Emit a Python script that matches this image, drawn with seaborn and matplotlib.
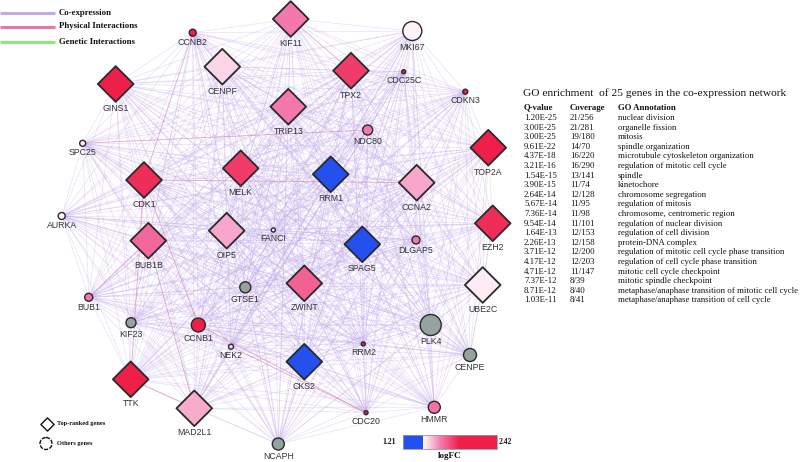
import numpy as np
import pandas as pd
import matplotlib
matplotlib.use("Agg")
import matplotlib.pyplot as plt
import seaborn as sns
from itertools import combinations
from matplotlib.collections import LineCollection
from matplotlib.colors import LinearSegmentedColormap, Normalize
from matplotlib.cm import ScalarMappable
from matplotlib.patches import Circle

# ---------------- data ----------------
# top-ranked genes (diamonds): layout position + logFC
top_genes = ["KIF11", "CENPF", "GINS1", "TPX2", "TRIP13", "MELK", "RRM1", "CDK1", "CCNA2",
             "TOP2A", "EZH2", "BUB1B", "OIP5", "SPAG5", "ZWINT", "UBE2C", "CKS2", "TTK", "MAD2L1"]
top_x = [290.7, 222.3, 115.7, 351.0, 288.3, 240.7, 330.7, 144.0, 416.7,
         488.3, 492.7, 148.3, 226.7, 362.3, 304.3, 482.7, 304.3, 130.7, 194.3]
top_y = [19.0, 66.7, 84.0, 70.7, 106.7, 168.3, 174.3, 180.0, 182.7,
         147.7, 223.3, 240.7, 230.7, 244.3, 283.3, 285.0, 361.7, 379.3, 408.3]
top_logfc = [1.70, 1.54, 2.30, 1.86, 1.70, 1.86, 1.25, 1.90, 1.62,
             2.30, 1.90, 1.74, 1.62, 1.25, 1.76, 1.50, 1.25, 2.30, 1.61]

# other genes (circles): layout position, radius (score), logFC (nan = not measured)
oth_genes = ["CCNB2", "MKI67", "CDC25C", "CDKN3", "SPC25", "NDC80", "AURKA", "FANCI", "DLGAP5",
             "GTSE1", "BUB1", "KIF23", "CCNB1", "PLK4", "NEK2", "RRM2", "CENPE", "HMMR", "CDC20", "NCAPH"]
oth_x = [192.7, 412.3, 403.7, 465.3, 82.7, 367.7, 61.7, 273.3, 416.0,
         245.3, 88.7, 131.0, 198.3, 430.7, 231.0, 363.3, 470.0, 434.3, 366.0, 278.3]
oth_y = [32.7, 31.0, 71.7, 91.7, 143.3, 130.0, 216.0, 230.0, 240.0,
         287.3, 297.3, 322.7, 325.0, 325.0, 346.7, 344.0, 355.0, 407.3, 412.7, 444.0]
oth_r = [3.5, 9.5, 2.0, 2.5, 3.0, 5.0, 3.5, 2.0, 4.0,
         5.5, 4.0, 5.0, 7.0, 10.5, 2.5, 2.0, 6.5, 6.0, 2.0, 6.0]
oth_logfc = [2.30, 1.49, 2.30, 2.20, 1.50, 1.70, 1.49, 1.48, 1.70,
             np.nan, 1.70, np.nan, 2.32, np.nan, 1.55, 2.30, np.nan, 1.72, 2.30, np.nan]

# physical interactions (pink edges)
physical_edges = [("CCNB2", "CDK1"), ("CDK1", "CCNA2"), ("CDK1", "CCNB1"),
                  ("BUB1B", "MAD2L1"), ("BUB1", "BUB1B"), ("CCNB1", "CDC20"),
                  ("TTK", "MAD2L1"), ("NDC80", "SPC25"), ("KIF11", "TPX2"),
                  ("CDK1", "TTK"), ("NEK2", "CDC20")]

# GO enrichment table
go_q = ["1.20E-25", "3.00E-25", "3.00E-25", "9.61E-22", "4.37E-18", "3.21E-16", "1.54E-15",
        "3.90E-15", "2.64E-14", "5.67E-14", "7.36E-14", "9.54E-14", "1.64E-13", "2.26E-13",
        "3.71E-12", "4.17E-12", "4.71E-12", "7.37E-12", "8.71E-12", "1.03E-11"]
go_cov = ["21/256", "21/281", "19/180", "14/70", "16/220", "16/290", "13/141", "11/74", "12/128",
          "11/95", "11/98", "11/101", "12/153", "12/158", "12/200", "12/203", "11/147", "8/39",
          "8/40", "8/41"]
go_term = ["nuclear division", "organelle fission", "mitosis", "spindle organization",
           "microtubule cytoskeleton organization", "regulation of mitotic cell cycle", "spindle",
           "kinetochore", "chromosome segregation", "regulation of mitosis",
           "chromosome, centromeric region", "regulation of nuclear division",
           "regulation of cell division", "protein-DNA complex",
           "regulation of mitotic cell cycle phase transition",
           "regulation of cell cycle phase transition", "mitotic cell cycle checkpoint",
           "mitotic spindle checkpoint", "metaphase/anaphase transition of mitotic cell cycle",
           "metaphase/anaphase transition of cell cycle"]
fc_min, fc_max = 1.21, 2.42

# ---------------- tables ----------------
top_df = pd.DataFrame({"gene": top_genes, "x": top_x, "y": top_y, "logFC": top_logfc})
oth_df = pd.DataFrame({"gene": oth_genes, "x": oth_x, "y": oth_y, "r": oth_r, "logFC": oth_logfc})
oth_df["s"] = (2 * oth_df["r"] * 0.72) ** 2
pos = {g: (x, y) for g, x, y in zip(top_df.gene, top_df.x, top_df.y)}
pos.update({g: (x, y) for g, x, y in zip(oth_df.gene, oth_df.x, oth_df.y)})

# ---------------- figure ----------------
sns.set_theme(style="white")
fig = plt.figure(figsize=(8, 4.62), dpi=100)
ax = fig.add_axes([0, 0, 1, 1])

cmap = LinearSegmentedColormap.from_list(
    "fc", [(0, "#2450f0"), (0.208, "#2450f0"), (0.212, "#ffffff"),
           (0.40, "#f47aae"), (0.60, "#ee1f48"), (1, "#ee1f48")])
norm = Normalize(fc_min, fc_max)

# edges
genes_all = list(pos.keys())
coexp = [[pos[a], pos[b]] for a, b in combinations(genes_all, 2)]
ax.add_collection(LineCollection(coexp, colors="#bca4e8", linewidths=0.45, alpha=0.38, zorder=1))
phys = [[pos[a], pos[b]] for a, b in physical_edges]
ax.add_collection(LineCollection(phys, colors="#e07aa8", linewidths=0.6, alpha=0.5, zorder=1.5))

# nodes
sns.scatterplot(data=top_df, x="x", y="y", hue="logFC", palette=cmap, hue_norm=norm,
                marker="D", s=330, edgecolor="#2a2a2a", linewidth=1.3, legend=False,
                ax=ax, zorder=3)
col_df = oth_df.dropna(subset=["logFC"])
gray_df = oth_df[oth_df["logFC"].isna()]
smin, smax = oth_df["s"].min(), oth_df["s"].max()
sns.scatterplot(data=col_df, x="x", y="y", hue="logFC", palette=cmap, hue_norm=norm,
                size="s", sizes=(smin, smax), size_norm=(smin, smax),
                marker="o", edgecolor="#2a2a2a", linewidth=1.0, legend=False, ax=ax, zorder=3)
sns.scatterplot(data=gray_df, x="x", y="y", color="#95a39f",
                size="s", sizes=(smin, smax), size_norm=(smin, smax),
                marker="o", edgecolor="#2a2a2a", linewidth=1.0, legend=False, ax=ax, zorder=3)
ax.set_xlim(0, 800)
ax.set_ylim(462, 0)
ax.axis("off")

lab_kw = dict(ha="center", va="center", fontsize=6.3, color="#333333",
              family="Liberation Sans", zorder=4)
for g, x, y in zip(top_df.gene, top_df.x, top_df.y):
    ax.text(x, y + 24.5, g, **lab_kw)
for g, x, y, r in zip(oth_df.gene, oth_df.x, oth_df.y, oth_df.r):
    ax.text(x, y + r + 6.5, g, **lab_kw)

# legend (edge types)
leg_items = [("Co-expression", "#c3aaea"), ("Physical Interactions", "#e27aa8"),
             ("Genetic Interactions", "#86ec74")]
for (txt, c), yy in zip(leg_items, [13.3, 26.5, 41.7]):
    ax.plot([0, 55], [yy, yy], color=c, lw=2.2, solid_capstyle="butt", zorder=5)
    ax.text(59, yy, txt, ha="left", va="center", fontsize=6.3, family="Liberation Serif",
            fontweight="bold", color="#111111", zorder=5)

# legend (node shapes)
ax.scatter([46.5], [424], marker="D", s=45, facecolor="white", edgecolor="#111111",
           linewidth=1.0, zorder=5)
ax.add_patch(Circle((46, 443.5), 6, facecolor="white", edgecolor="#111111", lw=1.0,
                    linestyle=(0, (3, 1)), zorder=5))
ax.text(57, 423.5, "Top-ranked genes", ha="left", va="center", fontsize=4.6,
        family="Liberation Serif", fontweight="bold", color="#111111")
ax.text(57, 443.5, "Others genes", ha="left", va="center", fontsize=4.6,
        family="Liberation Serif", fontweight="bold", color="#111111")

# GO table
serif = "Liberation Serif"
ax.text(523, 93, "GO enrichment  of 25 genes in the co-expression network", ha="left",
        va="center", fontsize=8.2, family=serif, color="#111111")
hy = 107.5
for xx, txt in zip([524, 570, 618], ["Q-value", "Coverage", "GO Annotation"]):
    ax.text(xx, hy, txt, ha="left", va="center", fontsize=6.3, family=serif,
            fontweight="bold", color="#111111")
for i, (q, c, t) in enumerate(zip(go_q, go_cov, go_term)):
    yy = 118 + i * 9.6
    ax.text(524, yy, q, ha="left", va="center", fontsize=6.3, family=serif, color="#111111")
    ax.text(570, yy, c, ha="left", va="center", fontsize=6.3, family=serif, color="#111111")
    ax.text(618, yy, t, ha="left", va="center", fontsize=6.3, family=serif, color="#111111")

# colorbar
cax = fig.add_axes([403 / 800, 1 - 449 / 462, 94 / 800, 14 / 462])
cb = fig.colorbar(ScalarMappable(norm=norm, cmap=cmap), cax=cax, orientation="horizontal")
cb.set_ticks([])
cb.outline.set_edgecolor("#999999")
cb.outline.set_linewidth(0.6)
ax.text(396, 442, "1.21", ha="right", va="center", fontsize=5.5, family=serif,
        fontweight="bold", color="#111111")
ax.text(499, 442, "2.42", ha="left", va="center", fontsize=5.5, family=serif,
        fontweight="bold", color="#111111")
ax.text(450, 456.5, "logFC", ha="center", va="center", fontsize=6.5, family=serif,
        fontweight="bold", color="#111111")

fig.savefig("out.png", dpi=100)
